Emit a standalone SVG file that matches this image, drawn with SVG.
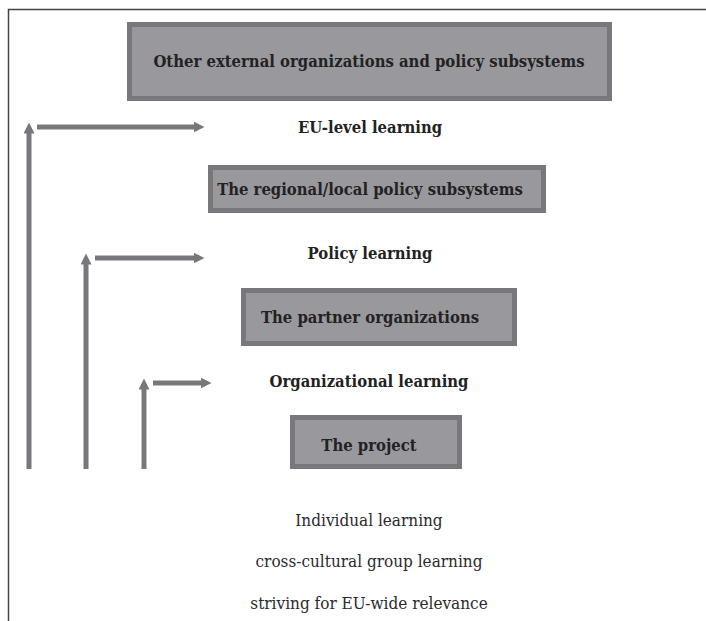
<svg xmlns="http://www.w3.org/2000/svg" width="706" height="621" viewBox="0 0 706 621">
  <style>
    .box { fill: #99999d; stroke: #78787c; stroke-width: 5; }
    .lbl { font-family: "DejaVu Serif Condensed", "DejaVu Serif", serif; font-stretch: condensed; fill: #222; text-anchor: middle; }
    .b { font-weight: bold; font-size: 16.5px; }
    .r { font-size: 17px; fill: #2a2a2a; }
    .conn { stroke: #78787c; stroke-width: 5; fill: none; }
  </style>
  <defs>
    <marker id="head" viewBox="0 0 10 10" refX="5" refY="5" markerWidth="2.2" markerHeight="2.2" orient="auto">
      <path d="M0,0 L10,5 L0,10 Z" fill="#78787c"/>
    </marker>
  </defs>
  <rect width="706" height="621" fill="#fff"/>
  <!-- frame -->
  <path d="M8.5,621 V9.5 H706" fill="none" stroke="#444" stroke-width="1.5"/>

  <g id="external">
    <rect class="box" x="129.5" y="24.5" width="480" height="74"/>
    <text class="lbl b" x="369" y="67">Other external organizations and policy subsystems</text>
  </g>
  <g id="eu-level-learning">
    <text class="lbl b" x="370" y="133">EU-level learning</text>
  </g>
  <g id="regional">
    <rect class="box" x="210.5" y="167.5" width="333" height="43"/>
    <text class="lbl b" x="370" y="195">The regional/local policy subsystems</text>
  </g>
  <g id="policy-learning">
    <text class="lbl b" x="370" y="259">Policy learning</text>
  </g>
  <g id="partner">
    <rect class="box" x="243.5" y="290.5" width="271" height="53"/>
    <text class="lbl b" x="370" y="323">The partner organizations</text>
  </g>
  <g id="organizational-learning">
    <text class="lbl b" x="369" y="387">Organizational learning</text>
  </g>
  <g id="project">
    <rect class="box" x="292.5" y="417.5" width="167" height="49"/>
    <text class="lbl b" x="369" y="451">The project</text>
  </g>
  <g id="individual">
    <text class="lbl r" x="369" y="526">Individual learning</text>
    <text class="lbl r" x="369" y="567">cross-cultural group learning</text>
    <text class="lbl r" x="369" y="609">striving for EU-wide relevance</text>
  </g>

  <g id="connectors">
    <line class="conn" x1="29" y1="469" x2="29" y2="128" marker-end="url(#head)"/>
    <line class="conn" x1="37" y1="127" x2="199" y2="127" marker-end="url(#head)"/>
    <line class="conn" x1="86" y1="469" x2="86" y2="259" marker-end="url(#head)"/>
    <line class="conn" x1="95" y1="258" x2="199" y2="258" marker-end="url(#head)"/>
    <line class="conn" x1="144" y1="469" x2="144" y2="384" marker-end="url(#head)"/>
    <line class="conn" x1="153" y1="383" x2="206" y2="383" marker-end="url(#head)"/>
  </g>
</svg>
